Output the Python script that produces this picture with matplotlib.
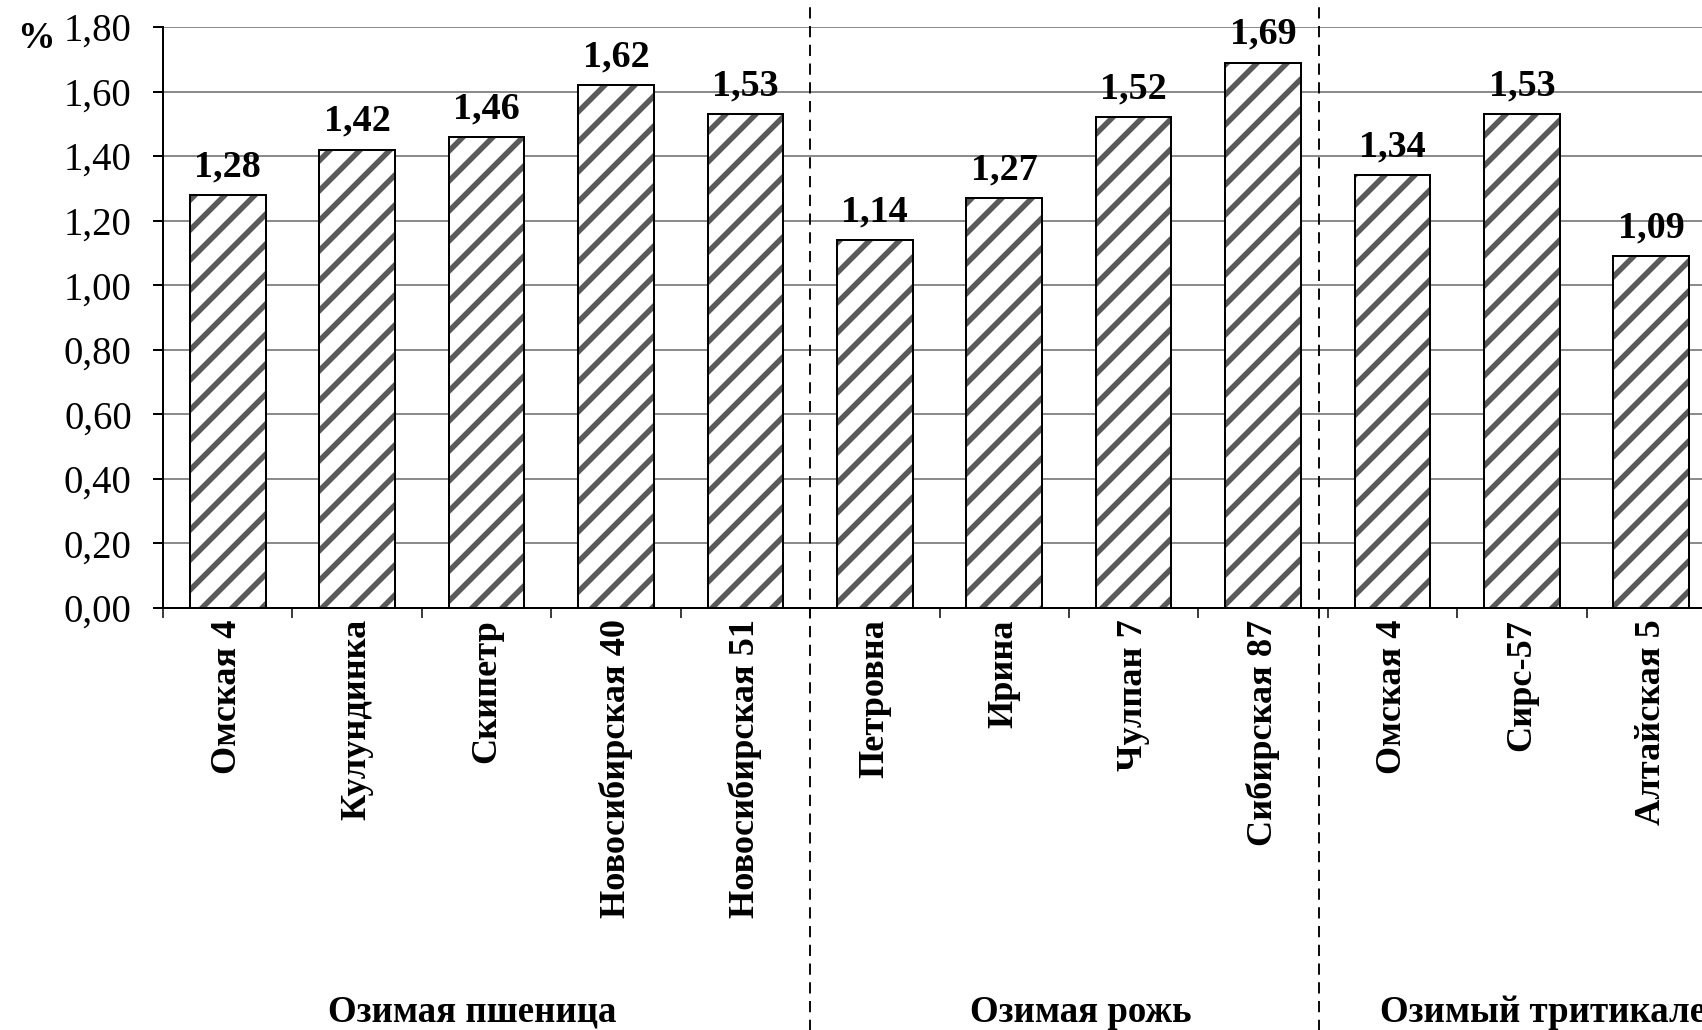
import matplotlib
matplotlib.use("Agg")
import matplotlib.pyplot as plt
import matplotlib.transforms as mtransforms
import numpy as np

# grain content by variety, grouped by crop
varieties = ["Омская 4", "Кулундинка", "Скипетр", "Новосибирская 40",
             "Новосибирская 51", "Петровна", "Ирина", "Чулпан 7",
             "Сибирская 87", "Омская 4", "Сирс-57", "Алтайская 5"]
values = [1.28, 1.42, 1.46, 1.62, 1.53, 1.14, 1.27, 1.52, 1.69, 1.34, 1.53, 1.09]
groups = ["Озимая пшеница", "Озимая рожь", "Озимый тритикале"]
group_centers = [2.39, 7.09, 10.66]
separators = [5.0, 8.93]
y_ticks = [0.0, 0.2, 0.4, 0.6, 0.8, 1.0, 1.2, 1.4, 1.6, 1.8]


def comma(v):
    return f"{v:.2f}".replace(".", ",")


plt.rcParams["font.family"] = ["Liberation Serif", "DejaVu Serif"]
plt.rcParams["hatch.linewidth"] = 4.4

DPI = 90
fig = plt.figure(figsize=(1702 / DPI, 1030 / DPI), dpi=DPI)
W, H = 1702, 1030
# axes run past the right edge of the figure
ax = fig.add_axes([163 / W, (H - 608) / H, 1553 / W, 581 / H])

x = np.arange(len(values)) + 0.5
bar_w = 0.585
ax.bar(x, values, width=bar_w, facecolor="white", edgecolor="#5a5a5a",
       hatch="/", linewidth=0, zorder=2)
ax.bar(x, values, width=bar_w, fill=False, edgecolor="black",
       linewidth=1.6, zorder=3)

for xi, v in zip(x, values):
    ax.annotate(comma(v), (xi, v), xytext=(0, 15), textcoords="offset points",
                ha="center", va="baseline", fontsize=30.5, fontweight="bold")

ax.set_xlim(0, len(values))
ax.set_ylim(0, 1.8)
ax.set_yticks(y_ticks)
ax.set_yticklabels([comma(t) for t in y_ticks], fontsize=31)
ax.grid(axis="y", color="#8c8c8c", linewidth=1.6, zorder=0)
ax.set_axisbelow(True)

ax.set_xticks(x)
ax.set_xticklabels(varieties, rotation=90, fontsize=29, fontweight="bold",
                   va="top", ha="center")
ax.set_xticks(np.arange(len(values) + 1), minor=True)
ax.tick_params(axis="x", which="major", length=0, pad=9)
ax.tick_params(axis="x", which="minor", length=8, width=1.2, direction="out")
ax.tick_params(axis="y", length=8, width=1.6, pad=17)

for side in ["top", "right"]:
    ax.spines[side].set_visible(False)
for side in ["left", "bottom"]:
    ax.spines[side].set_linewidth(1.6)

trans = mtransforms.blended_transform_factory(ax.transData, ax.transAxes)
for s in separators:
    ax.plot([s, s], [-0.73, 1.05], transform=trans, color="black",
            linewidth=1.5, linestyle=(0, (6, 4)), clip_on=False, zorder=4)

for name, c in zip(groups, group_centers):
    ax.text(c, -0.712, name, transform=trans, ha="center", va="baseline",
            fontsize=29.5, fontweight="bold")

fig.text(17 / W, (H - 48) / H, "%", ha="left", va="baseline",
         fontsize=30, fontweight="bold")

fig.savefig("out.png", dpi=DPI)
